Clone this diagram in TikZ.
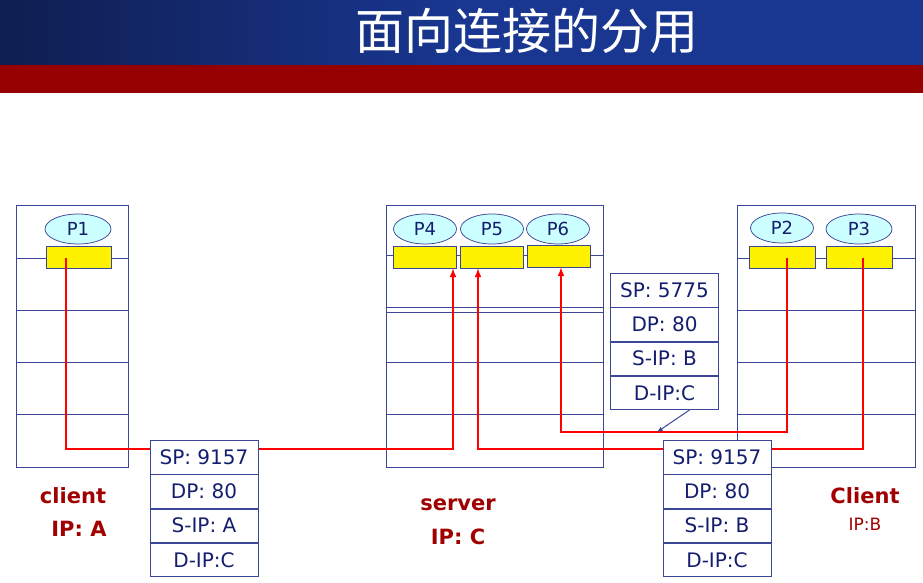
\documentclass[tikz,border=0pt]{standalone}
\usepackage{fontspec}
\setmainfont{DejaVu Sans}
\newfontfamily\cjk{Noto Sans CJK SC}
\definecolor{hostline}{RGB}{60,70,150}
\definecolor{txtblue}{RGB}{20,30,110}
\definecolor{lblred}{RGB}{160,0,0}
\definecolor{procfill}{RGB}{204,255,255}
\tikzset{every picture/.style={line width=0.75pt}}
\tikzset{
  proc/.style={draw=hostline,fill=procfill,ellipse,minimum width=63pt,minimum height=30pt,inner sep=0pt,text=txtblue,font=\fontsize{18}{18}\selectfont},
  sock/.style={draw=hostline,fill=yellow,minimum width=63pt,minimum height=22pt,inner sep=0pt},
  hdr/.style={draw=hostline,fill=white,minimum width=108pt,minimum height=33.5pt,inner sep=0pt,text=txtblue,font=\fontsize{20}{20}\selectfont},
  flow/.style={draw=red,line width=2pt},
  lbl/.style={text=lblred,font=\bfseries\fontsize{21}{21}\selectfont}
}
\usetikzlibrary{shapes.geometric}
\begin{document}
\begin{tikzpicture}[x=1pt,y=1pt,yscale=-1,xscale=1]
\useasboundingbox (0,0) rectangle (923,582);
% banner
\shade[left color={rgb,255:red,15;green,30;blue,80},right color={rgb,255:red,25;green,55;blue,145},middle color={rgb,255:red,25;green,55;blue,145}] (0,0) rectangle (923,65);
\fill[color={rgb,255:red,150;green,0;blue,0}] (0,65) rectangle (923,93);
\node[text=white,font=\cjk\fontsize{49}{49}\selectfont] (title) at (527,31) {面向连接的分用};
% hosts
\draw[hostline] (16,205) rectangle (128,467);
\foreach \y in {258,310,362,414} \draw[hostline] (16,\y) -- (128,\y);
\draw[hostline] (386,205) rectangle (603,467);
\foreach \y in {255,307,312,362,414} \draw[hostline] (386,\y) -- (603,\y);
\draw[hostline] (737,205) rectangle (915,467);
\foreach \y in {258,310,362,414} \draw[hostline] (737,\y) -- (915,\y);
% processes and sockets
\node[proc,minimum width=66pt] (p1) at (78,229) {P1};
\node[proc] (p4) at (425,229) {P4};
\node[proc] (p5) at (492,229) {P5};
\node[proc] (p6) at (558,229) {P6};
\node[proc] (p2) at (782,228) {P2};
\node[proc,minimum width=66pt] (p3) at (859,229) {P3};
\node[sock,minimum width=65pt] (s1) at (78.5,257) {};
\node[sock] (s4) at (424.5,257) {};
\node[sock] (s5) at (491.5,257) {};
\node[sock] (s6) at (558.5,256) {};
\node[sock,minimum width=66pt] (s2) at (782,257) {};
\node[sock,minimum width=66pt] (s3) at (859,257) {};
% flows
\coordinate (c1) at (66,449);
\coordinate (c2) at (453,449);
\draw[flow,-latex] (66,258) -- (c1) -- (c2) -- (s4.south -| c2);
\coordinate (c3) at (863,449);
\coordinate (c4) at (478,449);
\draw[flow,-latex] (863,258) -- (c3) -- (c4) -- (s5.south -| c4);
\coordinate (c5) at (787,432);
\coordinate (c6) at (561,432);
\draw[flow,-latex] (787,258) -- (c5) -- (c6) -- (s6.south -| c6);
% segment headers
\foreach \n/\x/\y/\sp/\sip in {a/204/440/9157/A,c/717/440/9157/B,b/664.5/273/5775/B}{
  \node[hdr,anchor=north] (\n1) at (\x,\y) {SP: \sp};
  \node[hdr,anchor=north] (\n2) at (\n1.south) {DP: 80};
  \node[hdr,anchor=north] (\n3) at (\n2.south) {S-IP: \sip};
  \node[hdr,anchor=north] (\n4) at (\n3.south) {D-IP:C};
}
\draw[hostline,line width=1pt,-latex] (b4.south) ++(25,0) -- (657,432);
% labels
\node[lbl] (cl) at (73,496) {client};
\node[lbl] (cla) at (79,529) {IP: A};
\node[lbl] (sv) at (458,505) {server};
\node[lbl] (svc) at (458,537) {IP: C};
\node[lbl] (cr) at (865,496) {Client};
\node[text=lblred,font=\fontsize{17}{17}\selectfont] (crb) at (865,524) {IP:B};
\end{tikzpicture}
\end{document}
